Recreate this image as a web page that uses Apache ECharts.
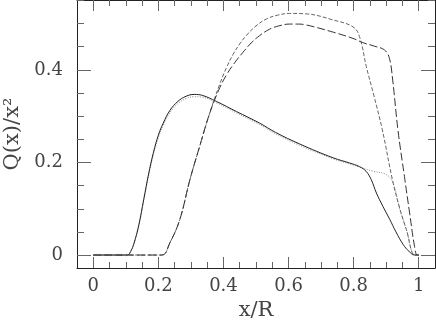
<!DOCTYPE html>
<html>
<head>
<meta charset="utf-8">
<script src="https://cdn.jsdelivr.net/npm/echarts@6/dist/echarts.min.js"></script>
<style>
  html, body { margin: 0; background: #fff; }
  #chart { width: 436px; height: 321px; }
</style>
</head>
<body>
<div id="chart"></div>
<script>
// solid curve
const solidX = [0, 0.105, 0.115, 0.125, 0.14, 0.155, 0.17, 0.185, 0.2, 0.215, 0.235, 0.26, 0.285, 0.31, 0.335, 0.378, 0.44, 0.511, 0.56, 0.634, 0.737, 0.787, 0.818, 0.838, 0.854, 0.87, 0.89, 0.911, 0.93, 0.952, 0.97, 0.988, 1.0];
const solidY = [0, 0, 0.008, 0.025, 0.065, 0.12, 0.175, 0.222, 0.259, 0.285, 0.312, 0.332, 0.343, 0.347, 0.345, 0.332, 0.31, 0.285, 0.265, 0.24, 0.21, 0.199, 0.191, 0.181, 0.163, 0.134, 0.105, 0.077, 0.05, 0.023, 0.008, 0, 0];

// dotted curve
const dottedX = [0, 0.105, 0.115, 0.125, 0.14, 0.155, 0.17, 0.185, 0.2, 0.215, 0.235, 0.26, 0.285, 0.31, 0.335, 0.378, 0.44, 0.511, 0.56, 0.634, 0.737, 0.787, 0.818, 0.86, 0.9, 0.921, 0.942, 0.962, 0.988, 1.0];
const dottedY = [0, 0, 0.008, 0.025, 0.064, 0.118, 0.172, 0.218, 0.254, 0.28, 0.307, 0.327, 0.338, 0.342, 0.341, 0.329, 0.307, 0.282, 0.262, 0.237, 0.208, 0.197, 0.19, 0.181, 0.174, 0.156, 0.098, 0.055, 0, 0];

// short dashed curve (upper)
const shortX = [0, 0.21, 0.235, 0.266, 0.297, 0.327, 0.358, 0.389, 0.41, 0.43, 0.45, 0.47, 0.5, 0.532, 0.565, 0.603, 0.655, 0.736, 0.798, 0.818, 0.839, 0.862, 0.888, 0.92, 0.942, 0.962, 0.988, 1.0];
const shortY = [0, 0, 0.026, 0.077, 0.163, 0.235, 0.307, 0.37, 0.406, 0.434, 0.456, 0.474, 0.495, 0.51, 0.518, 0.522, 0.521, 0.508, 0.493, 0.472, 0.407, 0.345, 0.271, 0.16, 0.1, 0.055, 0, 0];

// long dashed curve (plateau to 0.9)
const longX = [0, 0.21, 0.235, 0.266, 0.297, 0.327, 0.358, 0.389, 0.41, 0.435, 0.46, 0.485, 0.511, 0.542, 0.57, 0.603, 0.63, 0.655, 0.73, 0.798, 0.828, 0.865, 0.895, 0.91, 0.92, 0.936, 0.956, 0.972, 0.987, 0.995, 1.0];
const longY = [0, 0, 0.026, 0.077, 0.163, 0.235, 0.307, 0.362, 0.39, 0.416, 0.438, 0.458, 0.474, 0.488, 0.495, 0.499, 0.499, 0.497, 0.483, 0.468, 0.459, 0.451, 0.443, 0.425, 0.378, 0.271, 0.17, 0.091, 0.019, 0, 0];

const xMajorTicks = [0, 0.2, 0.4, 0.6, 0.8, 1];
const xTickLabels = ["0", "0.2", "0.4", "0.6", "0.8", "1"];
const xMinorTicks = [0.05, 0.1, 0.15, 0.25, 0.3, 0.35, 0.45, 0.5, 0.55, 0.65, 0.7, 0.75, 0.85, 0.9, 0.95];
const yMajorTicks = [0, 0.2, 0.4];
const yTickLabels = ["0", "0.2", "0.4"];
const yMinorTicks = [0.05, 0.1, 0.15, 0.25, 0.3, 0.35, 0.45, 0.5, 0.55];

const FONT = "DejaVu Serif";
const X_MIN = -0.05, X_MAX = 1.05;
const Y_MIN = -0.028, Y_MAX = 0.551;

function pairs(xs, ys) {
  return xs.map((x, i) => [x, ys[i]]);
}

function labelFor(ticks, labels) {
  return (v) => {
    const i = ticks.findIndex((t) => Math.abs(t - v) < 1e-6);
    return i >= 0 ? labels[i] : "";
  };
}

function tickAxis(position, min, max, ticks, len, main) {
  return {
    type: "value",
    position: position,
    min: min,
    max: max,
    splitLine: { show: false },
    axisLine: { show: main, onZero: false, lineStyle: { color: "#222", width: 1 } },
    axisTick: {
      show: true,
      inside: true,
      length: len,
      customValues: ticks,
      lineStyle: { color: "#666", width: 1 },
    },
    axisLabel: { show: false },
  };
}

function curve(name, xs, ys, color, type) {
  return {
    name: name,
    type: "line",
    data: pairs(xs, ys),
    showSymbol: false,
    smooth: 0.4,
    lineStyle: { color: color, width: 1, type: type },
  };
}

const chart = echarts.init(document.getElementById("chart"));

const xBottom = tickAxis("bottom", X_MIN, X_MAX, xMajorTicks, 11, true);
xBottom.axisLabel = {
  show: true,
  customValues: xMajorTicks,
  formatter: labelFor(xMajorTicks, xTickLabels),
  fontFamily: FONT,
  fontSize: 18,
  color: "#444",
  margin: 9,
};
xBottom.name = "x/R";
xBottom.nameLocation = "middle";
xBottom.nameGap = 30;
xBottom.nameTextStyle = { fontFamily: FONT, fontSize: 21, color: "#444" };

const yLeft = tickAxis("left", Y_MIN, Y_MAX, yMajorTicks, 14, true);
yLeft.axisLabel = {
  show: true,
  customValues: yMajorTicks,
  formatter: labelFor(yMajorTicks, yTickLabels),
  fontFamily: FONT,
  fontSize: 18,
  color: "#444",
  margin: 14,
};
yLeft.name = "Q(x)/x²";
yLeft.nameLocation = "middle";
yLeft.nameGap = 52;
yLeft.nameTextStyle = { fontFamily: FONT, fontSize: 21, color: "#444" };

const option = {
  animation: false,
  backgroundColor: "#fff",
  grid: { left: 77, right: 1, top: 0, bottom: 53, containLabel: false, outerBoundsMode: "none" },
  xAxis: [
    xBottom,
    tickAxis("bottom", X_MIN, X_MAX, xMinorTicks, 6, false),
    tickAxis("top", X_MIN, X_MAX, xMajorTicks, 11, true),
    tickAxis("top", X_MIN, X_MAX, xMinorTicks, 6, false),
  ],
  yAxis: [
    yLeft,
    tickAxis("left", Y_MIN, Y_MAX, yMinorTicks, 7, false),
    tickAxis("right", Y_MIN, Y_MAX, yMajorTicks, 14, true),
    tickAxis("right", Y_MIN, Y_MAX, yMinorTicks, 7, false),
  ],
  series: [
    curve("dotted", dottedX, dottedY, "#888", [1, 1.5]),
    curve("solid", solidX, solidY, "#222", "solid"),
    curve("short dashed", shortX, shortY, "#666", [4, 2]),
    curve("long dashed", longX, longY, "#333", [8, 3]),
  ],
};

chart.setOption(option);
</script>
</body>
</html>
